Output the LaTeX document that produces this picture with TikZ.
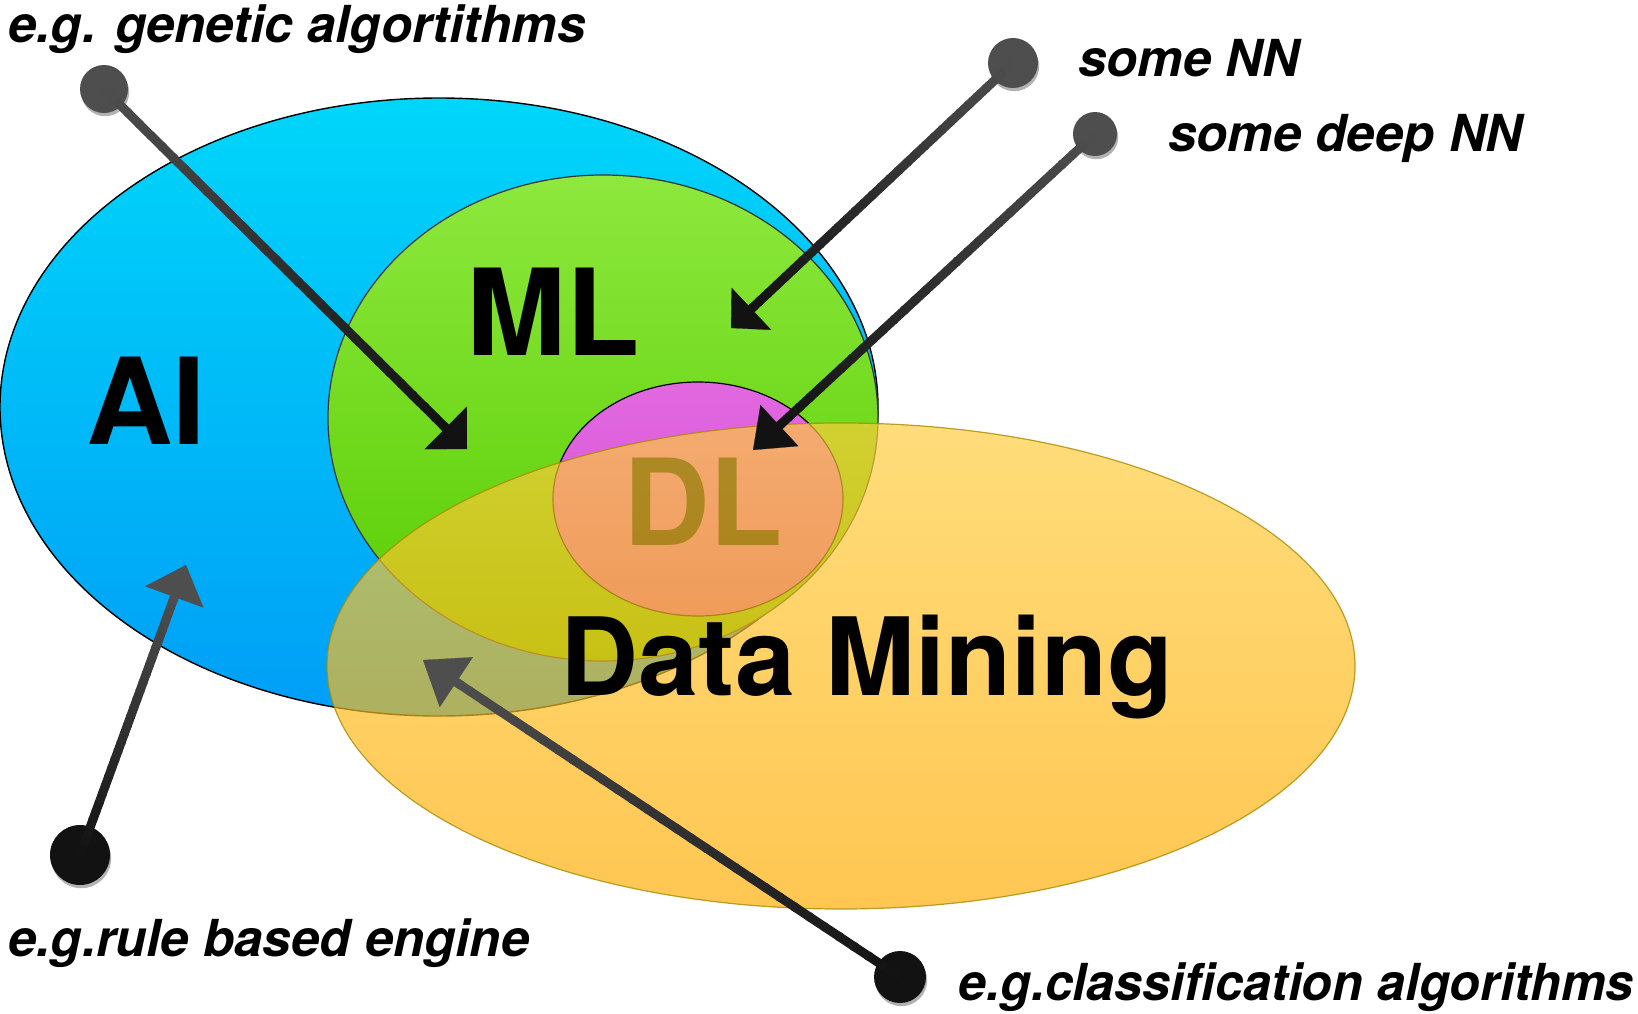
\documentclass[tikz,border=0pt]{standalone}
\usepackage{fontspec}
\setmainfont{TeX Gyre Heros}
\usetikzlibrary{calc,arrows.meta,shadows}

\definecolor{aiTop}{RGB}{0,214,250}
\definecolor{aiBot}{RGB}{0,158,246}
\definecolor{mlTop}{RGB}{142,232,62}
\definecolor{mlBot}{RGB}{86,204,0}
\definecolor{dlTop}{RGB}{226,104,224}
\definecolor{dlBot}{RGB}{208,82,208}
\definecolor{dmTop}{RGB}{255,205,60}
\definecolor{dmBot}{RGB}{255,172,0}
\definecolor{dmEdge}{RGB}{170,138,0}
\definecolor{inkGray}{RGB}{78,78,78}
\definecolor{inkDark}{RGB}{18,18,18}

\tikzset{
  big/.style={font=\fontsize{60}{60}\selectfont\bfseries, inner sep=0pt, anchor=base},
  note/.style={font=\fontsize{25.5}{30}\selectfont\bfseries\itshape, inner sep=0pt, anchor=base west},
  dot/.style={circle, inner sep=0pt, draw=none,
    drop shadow={shadow xshift=0.6pt, shadow yshift=-1.6pt, opacity=0.3, fill=black}},
  stem/.style={line width=4.5pt},
}

% #1 dot, #2 tip, #3 colour at the dot, #4 colour at the tip, #5 head length, #6 head width
\newcommand\callout[6]{%
  \coordinate (#2-base) at ($(#2)!#5!(#1)$);
  \foreach \k in {0,...,29}{%
    \pgfmathsetmacro\ta{\k/30}%
    \pgfmathsetmacro\tb{min(1,(\k+1.2)/30)}%
    \pgfmathtruncatemacro\pc{100*(\k+0.5)/30}%
    \draw[stem, draw={#4!\pc!#3}] ($(#1)!\ta!(#2-base)$) -- ($(#1)!\tb!(#2-base)$);
  }%
  \draw[stem, draw=#4, -{Triangle[length=#5, width=#6, line width=0.1pt]}]
    ($(#2)!1.15!(#2-base)$) -- (#2);
}

\begin{document}
\begin{tikzpicture}[x=0.5pt, y=-0.5pt]
\useasboundingbox (0,0) rectangle (1638,1013);
\fill[white] (0,0) rectangle (1638,1013);

% Venn sets
\shadedraw[top color=aiTop, bottom color=aiBot, draw=black, line width=0.7pt]
  (439,407) ellipse [x radius=219.5pt, y radius=154.5pt];
\shadedraw[top color=mlTop, bottom color=mlBot, draw=black!80, line width=0.6pt]
  (603,418) ellipse [x radius=137.5pt, y radius=121.5pt];
\shadedraw[top color=dlTop, bottom color=dlBot, draw=black, line width=0.6pt]
  (698,499) ellipse [x radius=72.5pt, y radius=58.5pt];
\node[big] (dl) at (703,545) {DL};
\shadedraw[top color=dmTop, bottom color=dmBot, fill opacity=0.68,
           draw=dmEdge, draw opacity=0.8, line width=0.6pt]
  (841,666) ellipse [x radius=257pt, y radius=121.5pt];

% set names
\node[big] (ai) at (146,444) {AI};
\node[big] (ml) at (553,355) {ML};
\node[big, font=\fontsize{54}{54}\selectfont\bfseries] (dm) at (867,695) {Data Mining};

% callout dots
\node[dot, fill=inkGray, minimum size=24pt] (gdot) at (104,89) {};
\node[dot, fill=inkGray, minimum size=25pt] (nndot) at (1013,63) {};
\node[dot, fill=inkGray, minimum size=22pt] (dnndot) at (1095,134) {};
\node[dot, fill=inkDark, minimum size=30pt] (rdot) at (80,855) {};
\node[dot, fill=inkDark, minimum size=26pt] (cdot) at (900,977) {};

% arrow tips
\coordinate (gtip) at (467,449);
\coordinate (nntip) at (731,328);
\coordinate (dnntip) at (753,450);
\coordinate (rtip) at (186,565);
\coordinate (ctip) at (423,660);

% connectors, from the centre of each dot
\callout{gdot}{gtip}{inkGray}{inkDark}{15pt}{30pt}
\callout{nndot}{nntip}{inkGray}{inkDark}{14pt}{29pt}
\callout{dnndot}{dnntip}{inkGray}{inkDark}{18pt}{28pt}
\callout{rdot}{rtip}{inkDark}{inkGray}{17pt}{31pt}
\callout{cdot}{ctip}{inkDark}{inkGray}{20pt}{30pt}

% callout texts
\node[note] (lgen) at (8,42) {e.g. genetic algortithms};
\node[note] (lnn) at (1078,76) {some NN};
\node[note] (ldnn) at (1168,151) {some deep NN};
\node[note] (lrule) at (8,956) {e.g.rule based engine};
\node[note, anchor=base east, xscale=0.985, transform shape] (lclass) at (1634,1000) {e.g.classification algorithms};
\end{tikzpicture}
\end{document}
